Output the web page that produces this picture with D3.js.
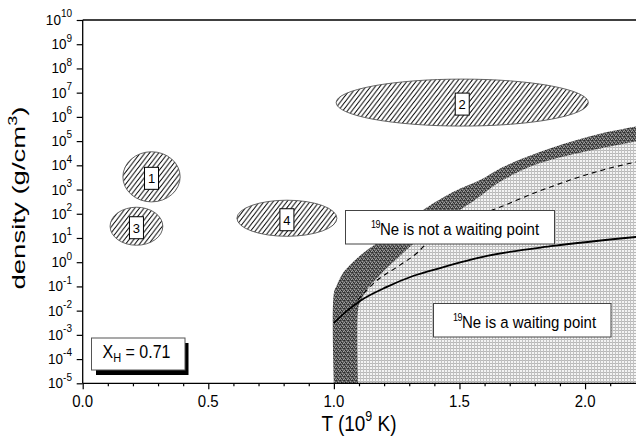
<!DOCTYPE html>
<html><head><meta charset="utf-8">
<script src="https://cdn.jsdelivr.net/npm/d3@7"></script>
<style>
body{margin:0;background:#fff}
svg{display:block}
text{font-family:"Liberation Sans",Arial,Helvetica,sans-serif;fill:#000}
</style>
</head><body>
<svg id="chart" width="636" height="438"></svg>
<script>
// ---------------- data ----------------
const xMajorTicks = [0.0, 0.5, 1.0, 1.5, 2.0];
const xTickLabels = ["0.0", "0.5", "1.0", "1.5", "2.0"];
const xMinorTicks = [0.1,0.2,0.3,0.4,0.6,0.7,0.8,0.9,1.1,1.2,1.3,1.4,1.6,1.7,1.8,1.9,2.1];
const yExponents = [-5,-4,-3,-2,-1,0,1,2,3,4,5,6,7,8,9,10];

// shaded regions (T in 1e9 K, log10 density)
const outerT      = [1.0, 1.0, 1.012, 1.036, 1.076, 1.132, 1.203, 1.283, 1.355, 1.474, 1.582, 1.673, 1.809, 1.94, 2.071, 2.203];
const outerLogRho = [-5, -1.27, -0.94, -0.45, 0.01, 0.50, 1.00, 1.62, 2.16, 2.90, 3.39, 3.93, 4.51, 4.96, 5.33, 5.60];
const innerT      = [1.096, 1.096, 1.108, 1.136, 1.176, 1.211, 1.263, 1.343, 1.423, 1.502, 1.562, 1.673, 1.809, 1.94, 2.071, 2.203];
const innerLogRho = [-5, -1.97, -1.56, -1.07, -0.61, -0.24, 0.26, 1.00, 1.62, 2.16, 2.57, 3.39, 4.05, 4.43, 4.72, 4.98];
// lines
const solidT      = [1.0, 1.052, 1.104, 1.211, 1.315, 1.423, 1.610, 1.873, 2.203];
const solidLogRho = [-2.51, -2.01, -1.60, -1.02, -0.57, -0.24, 0.26, 0.67, 1.04];
const dashedT      = [1.096, 1.164, 1.263, 1.331, 1.383, 1.474, 1.653, 1.809, 1.94, 2.071, 2.203];
const dashedLogRho = [-1.56, -0.82, -0.12, 0.38, 0.92, 1.54, 2.24, 2.90, 3.39, 3.81, 4.14];

// hatched ellipses: label, T range, log density range
const ellipseLabels = ["1", "2", "3", "4"];
const ellipseTRange = [[0.160, 0.388], [1.009, 2.013], [0.109, 0.319], [0.614, 1.012]];
const ellipseLogRhoRange = [[2.49, 4.56], [5.62, 7.56], [0.70, 2.27], [1.07, 2.56]];

const xhValue = "0.71";

// ---------------- layout ----------------
const svg = d3.select("#chart");
const L = 82.7, R = 635.3, T = 20, B = 383.3;
const x = d3.scaleLinear().domain([0, 2.2]).range([L, R]);
const y = d3.scaleLog().domain([1e-5, 1e10]).range([B, T]);
const yl = v => y(Math.pow(10, v));

const defs = svg.append("defs");
defs.append("clipPath").attr("id","plotclip").append("rect")
  .attr("x", L).attr("y", T).attr("width", R - L + 1).attr("height", B - T);

// hatch pattern
const hp = defs.append("pattern").attr("id","hatch").attr("patternUnits","userSpaceOnUse")
  .attr("width", 4.6).attr("height", 6);
hp.append("rect").attr("width",4.6).attr("height",6).attr("fill","#fff");
hp.append("path").attr("d","M0,6 L4.6,0 M-1,1.3 L1,-1.3 M3.6,7.3 L5.6,4.7")
  .attr("stroke","#000").attr("stroke-width",1).attr("fill","none");

// light stipple
const lp = defs.append("pattern").attr("id","light").attr("patternUnits","userSpaceOnUse")
  .attr("width", 3).attr("height", 3);
lp.append("rect").attr("width",3).attr("height",3).attr("fill","#f4f4f4");
lp.append("rect").attr("width",3).attr("height",1).attr("fill","#b8b8b8");
lp.append("rect").attr("width",1).attr("height",3).attr("fill","#c2c2c2");

// dark stipple
const dp = defs.append("pattern").attr("id","dark").attr("patternUnits","userSpaceOnUse")
  .attr("width", 4).attr("height", 4);
dp.append("rect").attr("width",4).attr("height",4).attr("fill","#5e5e5e");
[[0,0,"#2a2a2a"],[2,1,"#a2a2a2"],[1,2,"#262626"],[3,3,"#a8a8a8"],[3,0,"#3c3c3c"],[1,3,"#8a8a8a"],[0,2,"#999"],[2,3,"#303030"]]
  .forEach(([px,py,c]) => dp.append("rect").attr("x",px).attr("y",py).attr("width",1).attr("height",1).attr("fill",c));

const plot = svg.append("g").attr("clip-path","url(#plotclip)");
const line = d3.line().x(d => x(d[0])).y(d => yl(d[1])).curve(d3.curveCatmullRom.alpha(0.5));

const outerPts = outerT.map((t,i) => [t, outerLogRho[i]]);
const innerPts = innerT.map((t,i) => [t, innerLogRho[i]]);
plot.append("path").attr("d", line(outerPts) + " L" + (R+5) + "," + yl(outerLogRho[outerLogRho.length-1]) + " L" + (R+5) + "," + (B+5) + " L" + x(outerT[0]) + "," + (B+5) + "Z")
  .attr("fill","url(#dark)");
plot.append("path").attr("d", line(innerPts) + " L" + (R+5) + "," + yl(innerLogRho[innerLogRho.length-1]) + " L" + (R+5) + "," + (B+5) + " L" + x(innerT[0]) + "," + (B+5) + "Z")
  .attr("fill","url(#light)");

const smooth = d3.line().x(d => x(d[0])).y(d => yl(d[1])).curve(d3.curveMonotoneX);
plot.append("path").attr("d", smooth(dashedT.map((t,i)=>[t,dashedLogRho[i]])))
  .attr("fill","none").attr("stroke","#000").attr("stroke-width",1.1).attr("stroke-dasharray","5,4");
plot.append("path").attr("d", smooth(solidT.map((t,i)=>[t,solidLogRho[i]])))
  .attr("fill","none").attr("stroke","#000").attr("stroke-width",1.8);

// ellipses
ellipseLabels.forEach((lab,i) => {
  const x0 = x(ellipseTRange[i][0]), x1 = x(ellipseTRange[i][1]);
  const y0 = yl(ellipseLogRhoRange[i][1]), y1 = yl(ellipseLogRhoRange[i][0]);
  const cx = (x0+x1)/2, cy = (y0+y1)/2;
  svg.append("ellipse").attr("cx",cx).attr("cy",cy).attr("rx",(x1-x0)/2).attr("ry",(y1-y0)/2)
    .attr("fill","url(#hatch)").attr("stroke","#555").attr("stroke-width",0.9);
  svg.append("rect").attr("x",cx-7).attr("y",cy-9.5).attr("width",14).attr("height",22)
    .attr("fill","#fff").attr("stroke","#000").attr("stroke-width",1);
  svg.append("text").attr("x",cx).attr("y",cy+6.5).attr("text-anchor","middle")
    .attr("font-size",13).text(lab);
});

// annotation boxes
function neBox(bx, by, bw, bh, tx, ty, rest){
  svg.append("rect").attr("x",bx).attr("y",by).attr("width",bw).attr("height",bh)
    .attr("fill","#fff").attr("stroke","#444").attr("stroke-width",1);
  const g = svg.append("g").attr("transform",`translate(${tx},${ty}) scale(1,1.12)`);
  const t = g.append("text").attr("x",0).attr("y",0).attr("font-size",15);
  t.append("tspan").attr("font-size",9).attr("dy",-6).attr("letter-spacing",-0.5).text("19");
  t.append("tspan").attr("dy",6).text(rest);
}
neBox(345.5, 210.5, 209, 33.5, 371, 235, "Ne is not a waiting point");
neBox(433.5, 303.5, 177.5, 33.5, 453, 327.5, "Ne is a waiting point");

// X_H box
svg.append("rect").attr("x",96).attr("y",343).attr("width",92.5).attr("height",32).attr("fill","#000");
svg.append("rect").attr("x",91.5).attr("y",338).attr("width",93.5).attr("height",32)
  .attr("fill","#fff").attr("stroke","#555").attr("stroke-width",1);
{
  const g = svg.append("g").attr("transform","translate(102.5,358) scale(1,1.12)");
  const t = g.append("text").attr("font-size",16);
  t.append("tspan").text("X");
  t.append("tspan").attr("font-size",11).attr("dy",4).text("H");
  t.append("tspan").attr("dy",-4).text(" = " + xhValue);
}

// axes
const ax = svg.append("g");
ax.append("line").attr("x1",L).attr("x2",R+1).attr("y1",B).attr("y2",B).attr("stroke","#000").attr("stroke-width",1.3);
ax.append("line").attr("x1",L).attr("x2",L).attr("y1",T).attr("y2",B).attr("stroke","#000").attr("stroke-width",1.3);
ax.append("line").attr("x1",L).attr("x2",R+1).attr("y1",T).attr("y2",T).attr("stroke","#000").attr("stroke-width",1.3);

const xMajor = svg.append("g").attr("transform",`translate(0,${B})`)
  .call(d3.axisBottom(x).tickValues(xMajorTicks).tickSize(6).tickSizeOuter(0).tickFormat(""));
const xMinor = svg.append("g").attr("transform",`translate(0,${B})`)
  .call(d3.axisBottom(x).tickValues(xMinorTicks).tickSize(3).tickSizeOuter(0).tickFormat(""));
const yAx = svg.append("g").attr("transform",`translate(${L},0)`)
  .call(d3.axisLeft(y).tickValues(yExponents.map(e => Math.pow(10,e))).tickSize(6).tickSizeOuter(0).tickFormat(""));
[xMajor,xMinor,yAx].forEach(g => {
  g.select(".domain").remove();
  g.selectAll(".tick line").attr("stroke","#000").attr("stroke-width",1.2);
});

xMajorTicks.forEach((v,i) => {
  const g = svg.append("g").attr("transform",`translate(${x(v)},${B+23.5}) scale(1,1.15)`);
  g.append("text").attr("text-anchor","middle").attr("font-size",15).text(xTickLabels[i]);
});

yExponents.forEach(e => {
  const g = svg.append("g").attr("transform",`translate(72,${y(Math.pow(10,e))+5}) scale(1,1.1)`);
  const t = g.append("text").attr("text-anchor","end").attr("font-size",13.5);
  t.append("tspan").text("10");
  t.append("tspan").attr("font-size",10).attr("dy",-7).text(String(e));
});

// axis titles
{
  const g = svg.append("g").attr("transform","translate(359,431) scale(1,1.2)");
  const t = g.append("text").attr("text-anchor","middle").attr("font-size",19);
  t.append("tspan").text("T (10");
  t.append("tspan").attr("font-size",12.5).attr("dy",-8).text("9");
  t.append("tspan").attr("dy",8).text(" K)");
}
{
  const g = svg.append("g").attr("transform","translate(25,198) rotate(-90) scale(1.45,1)");
  const t = g.append("text").attr("text-anchor","middle").attr("font-size",19);
  t.append("tspan").text("density (g/cm");
  t.append("tspan").attr("font-size",12.5).attr("dy",-8).text("3");
  t.append("tspan").attr("dy",8).text(")");
}
</script>
</body></html>
